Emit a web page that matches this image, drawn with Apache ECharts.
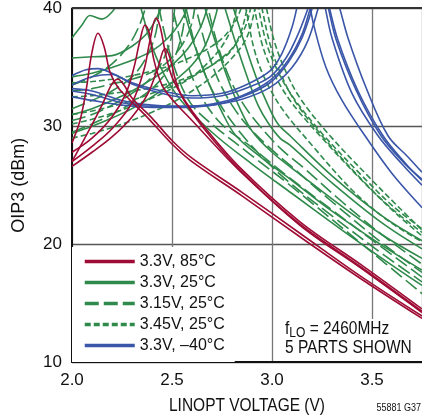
<!DOCTYPE html>
<html><head><meta charset="utf-8">
<script src="https://cdn.jsdelivr.net/npm/echarts@6/dist/echarts.min.js"></script>
<style>html,body{margin:0;padding:0;background:#fff}#c{width:422px;height:420px}</style>
</head><body><div id="c"></div>
<script>
// ---- data ----
const xTicks = [2.0, 2.5, 3.0, 3.5];
const yTicks = [10, 20, 30, 40];
const legendNames = ['3.3V, 85°C', '3.3V, 25°C', '3.15V, 25°C', '3.45V, 25°C', '3.3V, –40°C'];

// 3.3V, 85°C – five parts, [LINOPT V, OIP3 dBm]
const red85 = [
 [[2.0,28.6],[2.04,30.5],[2.07,33.0],[2.1,36.3],[2.13,37.9],[2.16,36.8],[2.19,34.6],[2.23,33.3],[2.28,32.4],[2.38,30.7],[2.5,28.5],[2.6,27.0],[2.85,24.1],[3.15,20.5],[3.45,17.0],[3.75,13.7]],
 [[2.0,27.0],[2.08,29.5],[2.15,31.8],[2.2,33.6],[2.23,34.0],[2.26,33.5],[2.3,32.4],[2.4,30.7],[2.5,28.8],[2.6,27.3],[2.85,24.4],[3.15,20.8],[3.45,17.2],[3.75,13.9]],
 [[2.0,27.8],[2.1,29.0],[2.2,30.8],[2.27,32.8],[2.31,35.0],[2.34,37.3],[2.365,38.6],[2.385,38.0],[2.41,35.6],[2.45,33.5],[2.5,32.3],[2.6,30.5],[2.84,26.2],[3.14,21.7],[3.45,18.0],[3.75,14.3]],
 [[2.0,27.0],[2.1,28.3],[2.2,29.8],[2.3,32.0],[2.36,34.8],[2.39,37.3],[2.42,39.2],[2.44,38.5],[2.47,36.0],[2.5,34.2],[2.56,32.3],[2.65,30.2],[2.84,26.5],[3.14,21.9],[3.45,18.2],[3.75,14.5]],
 [[2.0,26.6],[2.1,27.8],[2.2,29.1],[2.3,30.8],[2.38,32.8],[2.43,35.0],[2.465,36.6],[2.49,35.8],[2.52,33.8],[2.56,32.2],[2.65,30.0],[2.84,26.3],[3.14,21.6],[3.45,17.9],[3.75,14.2]]
];

// 3.3V, 25°C – five parts
const green33 = [
 [[2.0,37.5],[2.05,38.6],[2.09,39.4],[2.15,39.1],[2.2,39.7],[2.25,41.0],[2.3,42.5],[2.34,40.3],[2.4,36.8],[2.48,33.8],[2.58,31.5],[2.72,29.2],[2.9,26.8],[3.1,24.3],[3.35,21.2],[3.55,18.8],[3.75,16.5]],
 [[2.0,35.8],[2.1,35.9],[2.2,36.0],[2.3,36.8],[2.38,38.0],[2.44,39.8],[2.5,42.5],[2.55,40.3],[2.61,37.0],[2.68,33.8],[2.75,31.2],[2.82,29.2],[2.95,27.3],[3.1,25.4],[3.3,22.8],[3.55,19.9],[3.75,17.8]],
 [[2.0,34.2],[2.1,34.5],[2.2,35.0],[2.3,35.6],[2.4,36.4],[2.48,37.5],[2.54,38.8],[2.58,40.2],[2.62,42.5],[2.66,40.3],[2.72,37.0],[2.78,34.0],[2.84,31.5],[2.9,29.6],[3.0,27.8],[3.15,25.8],[3.35,23.2],[3.55,20.8],[3.75,18.8]],
 [[2.0,31.0],[2.1,31.5],[2.2,32.2],[2.3,33.0],[2.4,34.0],[2.5,35.2],[2.58,36.6],[2.64,38.3],[2.68,40.2],[2.72,42.5],[2.76,40.3],[2.82,37.0],[2.88,34.0],[2.93,31.8],[2.98,30.3],[3.04,29.0],[3.09,28.4],[3.3,25.2],[3.55,21.8],[3.75,19.6]],
 [[2.0,29.4],[2.1,30.0],[2.2,30.7],[2.3,31.5],[2.4,32.5],[2.5,33.7],[2.6,35.2],[2.67,37.0],[2.72,39.5],[2.76,42.5],[2.8,40.4],[2.86,37.2],[2.92,34.2],[2.98,31.8],[3.03,30.2],[3.09,29.2],[3.3,25.8],[3.55,22.4],[3.75,20.3]]
];

// 3.15V, 25°C – five parts
const green315 = [
 [[2.0,33.5],[2.1,34.2],[2.2,35.3],[2.28,36.8],[2.33,38.3],[2.37,40.2],[2.4,42.5],[2.43,40.4],[2.47,37.4],[2.52,34.6],[2.57,32.6],[2.62,31.4],[2.72,29.9],[2.9,27.5],[3.09,25.0],[3.45,20.0],[3.75,15.8]],
 [[2.0,31.5],[2.1,32.2],[2.2,33.0],[2.3,34.2],[2.37,35.8],[2.42,38.0],[2.46,42.5],[2.5,40.2],[2.55,36.8],[2.61,33.8],[2.68,31.6],[2.76,30.0],[2.9,28.2],[3.09,25.6],[3.45,21.0],[3.75,17.2]],
 [[2.0,30.5],[2.1,31.0],[2.2,31.8],[2.3,32.8],[2.4,34.2],[2.46,35.8],[2.5,37.8],[2.53,42.5],[2.57,40.0],[2.62,36.6],[2.68,33.8],[2.75,31.6],[2.84,29.5],[2.95,27.4],[3.09,25.2],[3.3,22.4],[3.55,19.2],[3.75,16.8]],
 [[2.0,29.5],[2.1,30.2],[2.2,31.0],[2.3,32.0],[2.4,33.2],[2.48,34.8],[2.53,36.6],[2.56,38.8],[2.58,42.5],[2.62,40.0],[2.67,36.8],[2.73,34.0],[2.8,31.8],[2.88,30.0],[3.0,28.0],[3.09,26.7],[3.3,23.6],[3.55,20.1],[3.75,17.6]],
 [[2.0,33.0],[2.1,33.2],[2.2,33.6],[2.3,34.0],[2.4,34.6],[2.48,35.5],[2.55,36.9],[2.6,38.8],[2.64,42.5],[2.68,40.0],[2.73,36.8],[2.79,34.0],[2.86,31.8],[2.94,30.0],[3.05,28.0],[3.15,26.6],[3.35,23.6],[3.55,20.8],[3.75,18.3]]
];

// 3.45V, 25°C – five parts
const green345 = [
 [[2.0,33.7],[2.1,33.8],[2.2,34.0],[2.3,34.3],[2.4,34.7],[2.5,35.2],[2.6,35.9],[2.7,36.8],[2.77,37.8],[2.82,39.0],[2.85,40.3],[2.88,42.5],[2.91,40.2],[2.95,37.0],[3.0,34.8],[3.09,32.2],[3.24,29.2],[3.45,25.4],[3.6,23.0],[3.75,21.0]],
 [[2.0,32.5],[2.1,32.6],[2.2,32.8],[2.3,33.0],[2.4,33.3],[2.5,33.7],[2.6,34.3],[2.7,35.2],[2.79,36.3],[2.84,37.8],[2.87,39.6],[2.9,42.5],[2.93,40.2],[2.97,37.2],[3.02,35.0],[3.1,32.6],[3.25,29.4],[3.45,25.8],[3.6,23.3],[3.75,21.3]],
 [[2.0,31.0],[2.1,31.3],[2.2,31.7],[2.3,32.2],[2.4,32.8],[2.5,33.4],[2.6,34.2],[2.7,35.2],[2.8,36.6],[2.86,38.2],[2.89,39.8],[2.92,42.5],[2.95,40.0],[2.99,37.0],[3.04,34.6],[3.12,32.0],[3.27,28.8],[3.47,25.1],[3.62,22.6],[3.75,20.7]],
 [[2.0,30.2],[2.1,30.6],[2.2,31.1],[2.3,31.7],[2.4,32.4],[2.5,33.2],[2.6,34.2],[2.68,35.4],[2.75,36.8],[2.8,38.4],[2.82,39.8],[2.84,42.5],[2.87,40.0],[2.91,36.6],[2.96,34.2],[3.05,31.5],[3.2,28.4],[3.4,24.6],[3.58,22.0],[3.75,20.2]],
 [[2.0,29.0],[2.1,29.4],[2.2,29.9],[2.3,30.5],[2.4,31.2],[2.5,32.0],[2.6,33.0],[2.7,34.2],[2.8,35.8],[2.87,37.4],[2.91,39.6],[2.94,42.5],[2.97,40.2],[3.01,37.3],[3.06,35.0],[3.14,32.4],[3.29,29.2],[3.49,25.6],[3.63,23.2],[3.75,21.2]]
];

// 3.3V, -40°C – five parts
const blue40 = [
 [[2.0,34.3],[2.07,34.8],[2.13,34.9],[2.2,34.5],[2.3,33.7],[2.45,33.0],[2.6,32.6],[2.75,32.8],[2.88,33.6],[2.99,34.7],[3.05,36.2],[3.1,38.4],[3.13,40.5],[3.155,42.5],[3.18,41.0],[3.21,38.5],[3.27,35.0],[3.35,32.2],[3.465,29.2],[3.6,26.0],[3.75,23.1]],
 [[2.0,33.5],[2.1,34.2],[2.2,34.4],[2.3,33.6],[2.45,32.8],[2.6,32.4],[2.75,32.6],[2.88,33.3],[2.99,34.2],[3.07,35.8],[3.13,37.8],[3.19,40.5],[3.225,42.5],[3.26,40.5],[3.3,37.5],[3.4,32.8],[3.53,29.2],[3.65,26.8],[3.75,25.0]],
 [[2.0,33.2],[2.1,33.0],[2.25,32.2],[2.4,31.8],[2.55,31.7],[2.7,31.8],[2.85,32.5],[2.99,33.7],[3.08,35.4],[3.15,37.5],[3.21,40.5],[3.245,42.5],[3.28,40.5],[3.33,37.3],[3.43,33.0],[3.555,29.2],[3.67,26.8],[3.75,25.4]],
 [[2.0,32.5],[2.1,32.2],[2.25,31.8],[2.4,31.6],[2.55,31.6],[2.7,31.8],[2.85,32.3],[2.99,33.3],[3.1,35.0],[3.18,37.3],[3.24,40.5],[3.285,42.5],[3.33,40.5],[3.38,37.5],[3.47,33.3],[3.58,29.2],[3.68,27.4],[3.75,26.1]],
 [[2.0,33.0],[2.1,32.7],[2.25,32.0],[2.4,31.7],[2.55,31.7],[2.7,31.9],[2.85,32.6],[2.99,33.9],[3.08,35.6],[3.15,37.8],[3.2,40.5],[3.24,42.5],[3.275,40.5],[3.32,37.4],[3.42,33.1],[3.545,29.2],[3.66,26.9],[3.75,25.5]]
];

// ---- styling ----
const FONT = '"Liberation Sans", Arial, sans-serif';
const RED = '#9e0b34', GREEN = '#2f8a4b', BLUE = '#3a56a8';
const groups = [
  {name: legendNames[0], curves: red85, color: RED, type: 'solid'},
  {name: legendNames[1], curves: green33, color: GREEN, type: 'solid'},
  {name: legendNames[2], curves: green315, color: GREEN, type: [14, 5]},
  {name: legendNames[3], curves: green345, color: GREEN, type: [6, 3]},
  {name: legendNames[4], curves: blue40, color: BLUE, type: 'solid'}
];
const series = [];
const order = [2, 3, 1, 4, 0];
order.forEach(gi => {
  const g = groups[gi];
  g.curves.forEach(c => {
    series.push({
      type: 'line', name: g.name, data: c, symbol: 'none', showSymbol: false, smooth: 0.35,
      color: g.color, lineStyle: {color: g.color, width: 1.6, type: g.type}, z: 3, silent: true
    });
  });
});

const chart = echarts.init(document.getElementById('c'), null, {renderer: 'canvas'});
chart.setOption({
  animation: false,
  backgroundColor: '#fff',
  grid: {left: 72, right: 0, top: 8, bottom: 58, containLabel: false},
  xAxis: {
    type: 'value', min: 2.0, max: 3.75, interval: 0.5,
    axisLine: {show: true, lineStyle: {color: '#111', width: 2}},
    axisTick: {show: false},
    axisLabel: {fontFamily: FONT, fontSize: 17, color: '#111', margin: 10, showMaxLabel: false,
      formatter: v => xTicks.indexOf(v) >= 0 ? v.toFixed(1) : ''},
    splitLine: {show: true, lineStyle: {color: '#777', width: 1.3}}
  },
  yAxis: {
    type: 'value', min: 10, max: 40, interval: 10,
    name: 'OIP3 (dBm)', nameLocation: 'middle', nameGap: 44, nameRotate: 90,
    nameTextStyle: {fontFamily: FONT, fontSize: 18, color: '#111'},
    axisLine: {show: true, lineStyle: {color: '#111', width: 2}},
    axisTick: {show: false},
    axisLabel: {fontFamily: FONT, fontSize: 17, color: '#111', margin: 10,
      formatter: v => yTicks.indexOf(v) >= 0 ? String(v) : ''},
    splitLine: {show: true, lineStyle: {color: '#555', width: 1.3}}
  },
  legend: {
    data: legendNames, orient: 'vertical', left: 72, top: 247,
    padding: [4, 10, 6, 11], backgroundColor: '#fff',
    itemWidth: 50, itemHeight: 14, itemGap: 0,
    lineStyle: {width: 3.5},
    itemStyle: {opacity: 0, borderWidth: 0},
    textStyle: {fontFamily: FONT, fontSize: 16, color: '#111', lineHeight: 21},
    selectedMode: false, z: 20
  },
  graphic: [
    {type: 'line', shape: {x1: 72, y1: 8, x2: 422, y2: 8}, style: {stroke: '#333', lineWidth: 2}, z: 50},
    {type: 'rect', shape: {x: 279, y: 319, width: 143, height: 42}, style: {fill: '#fff'}, z: 40},
    {type: 'text', x: 285, y: 318, scaleX: 0.86, z: 41, style: {
      x: 0, y: 0, text: '{a|f}{b|LO}{a| = 2460MHz}', fill: '#111',
      rich: {a: {fontFamily: FONT, fontSize: 18, lineHeight: 22, verticalAlign: 'middle'},
             b: {fontFamily: FONT, fontSize: 14, lineHeight: 22, verticalAlign: 'bottom', padding: [8, 0, 0, 0]}}}},
    {type: 'text', x: 285, y: 339, scaleX: 0.86, z: 41, style: {x: 0, y: 0, text: '5 PARTS SHOWN', fill: '#111', font: '18px ' + FONT}},
    {type: 'text', x: 247, y: 397, scaleX: 0.86, z: 41, style: {x: 0, y: 0, text: 'LINOPT VOLTAGE (V)', align: 'center', fill: '#111', font: '18px ' + FONT}},
    {type: 'text', x: 421, y: 403, scaleX: 0.9, z: 41, style: {x: 0, y: 0, text: '55881 G37', align: 'right', fill: '#111', font: '10px ' + FONT}}
  ],
  series: series
});
</script>
</body></html>
